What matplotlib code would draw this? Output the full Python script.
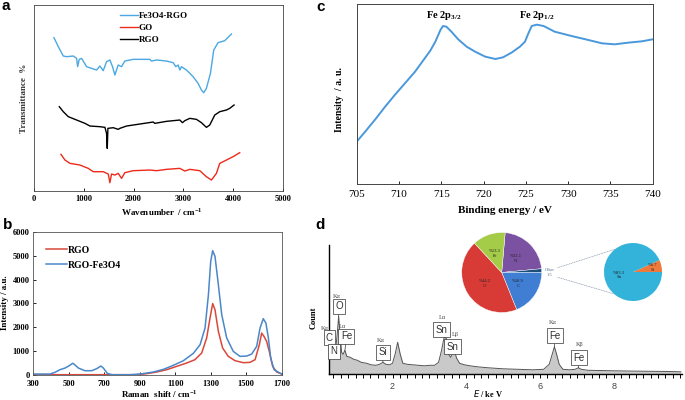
import numpy as np
import matplotlib
matplotlib.use('Agg')
import matplotlib.pyplot as plt
from matplotlib.patches import ConnectionPatch

plt.rcParams['font.family'] = ['Liberation Serif', 'DejaVu Serif']
plt.rcParams['mathtext.fontset'] = 'custom'
plt.rcParams['mathtext.rm'] = 'Liberation Serif:bold'

# ---- panel a : FTIR (arbitrary offset units) ----
ftir_wn_blue = [401, 488, 588, 655, 789, 856, 876, 909, 956, 1056, 1156, 1257, 1323, 1390, 1457, 1524,
                1577, 1624, 1691, 1758, 1824, 1992, 2326, 2360, 2460, 2660, 2794, 2848, 2895, 2928, 2961,
                3061, 3195, 3295, 3362, 3409, 3462, 3543, 3609, 3696, 3830, 3897, 3964]
ftir_blue = [459, 432, 404, 402, 404, 397, 372, 394, 397, 372, 367, 362, 374, 360, 387, 392,
             372, 347, 377, 372, 389, 394, 394, 389, 392, 389, 384, 372, 377, 362, 372,
             362, 342, 322, 302, 294, 307, 352, 422, 444, 450, 460, 470]
ftir_wn_black = [508, 588, 689, 856, 1023, 1123, 1323, 1424, 1457, 1471, 1484, 1591, 1691, 1724, 1858,
                 2126, 2393, 2426, 2660, 2928, 2981, 3028, 3128, 3262, 3362, 3462, 3529, 3630, 3730,
                 3864, 3930, 4017]
ftir_black = [252, 237, 222, 212, 202, 194, 192, 190, 172, 127, 187, 189, 184, 187, 194,
              200, 206, 202, 208, 212, 204, 210, 217, 214, 204, 190, 197, 227, 237,
              242, 247, 257]
ftir_wn_red = [541, 622, 722, 922, 1089, 1190, 1390, 1491, 1524, 1557, 1624, 1691, 1758, 1824, 1992,
               2326, 2460, 2660, 2928, 3028, 3128, 3329, 3462, 3563, 3663, 3730, 3864, 3997, 4131]
ftir_red = [109, 92, 82, 77, 67, 57, 57, 50, 24, 50, 47, 52, 37, 54, 60,
            62, 60, 64, 67, 59, 64, 60, 42, 32, 52, 82, 92, 102, 114]

# ---- panel b : Raman ----
raman_x_blue = [300, 394, 422, 450, 479, 503, 522, 529, 554, 591, 629, 657, 681, 695, 717, 742, 845,
                901, 976, 1033, 1089, 1146, 1202, 1240, 1268, 1287, 1300, 1311, 1324, 1343, 1362,
                1390, 1427, 1465, 1503, 1531, 1559, 1578, 1596, 1611, 1625, 1638, 1657, 1700]
raman_blue = [28, 28, 98, 210, 280, 379, 480, 449, 280, 168, 168, 252, 365, 280, 56, 0, 0,
              28, 112, 224, 393, 589, 897, 1262, 1963, 3365, 4767, 5215, 4977, 3785, 2524,
              1542, 981, 771, 785, 869, 1192, 1963, 2355, 2173, 1542, 701, 210, 28]
raman_x_red = [300, 882, 939, 995, 1052, 1108, 1164, 1211, 1249, 1277, 1296, 1311, 1324, 1343, 1367,
               1399, 1437, 1484, 1521, 1550, 1574, 1587, 1600, 1615, 1630, 1649, 1672, 1700]
raman_red = [0, 0, 42, 112, 210, 351, 491, 631, 911, 1542, 2383, 2990, 2734, 1823, 1122,
             771, 589, 505, 519, 631, 1262, 1750, 1612, 1402, 981, 351, 112, 28]

# ---- panel c : XPS Fe 2p ----
xps_ev = [705.0, 706.0, 707.2, 708.3, 709.5, 710.7, 711.9, 712.9, 713.7, 714.3, 714.9, 715.2, 715.6,
          716.2, 717.0, 718.0, 719.0, 720.2, 721.4, 722.3, 723.3, 724.3, 724.9, 725.3, 725.7, 726.3,
          727.1, 728.4, 730.4, 732.4, 734.0, 735.5, 737.1, 738.7, 740.0]
xps_int = [127, 157, 194, 230, 267, 302, 337, 372, 400, 427, 462, 474, 472,
           457, 434, 412, 397, 382, 375, 380, 394, 412, 427, 452, 474, 478,
           474, 457, 444, 432, 422, 419, 424, 428, 434]

# ---- panel d : EDS ----
eds_kev = [0.27, 0.30, 0.34, 0.37, 0.40, 0.45, 0.50, 0.54, 0.58, 0.62, 0.66, 0.71, 0.76, 0.85, 0.95,
           1.05, 1.15, 1.30, 1.42, 1.55, 1.65, 1.74, 1.82, 1.92, 2.00, 2.07, 2.14, 2.21, 2.28, 2.40,
           2.55, 2.70, 2.87, 3.00, 3.14, 3.25, 3.33, 3.40, 3.46, 3.52, 3.58, 3.64, 3.68, 3.74, 3.82,
           3.95, 4.10, 4.30, 4.60, 5.00, 5.40, 5.80, 6.10, 6.25, 6.33, 6.39, 6.45, 6.52, 6.62, 6.80,
           6.95, 7.04, 7.12, 7.30, 7.60, 8.00, 8.50, 9.00, 9.50, 9.82]
eds_count = [15, 22, 26, 20, 24, 22, 40, 58, 38, 22, 20, 24, 18, 17, 15,
             14, 12, 11, 9.5, 9, 10, 12, 10, 9.5, 11, 20, 32, 20, 11, 10,
             9.5, 9, 8.5, 9, 9, 12, 24, 37, 36, 20, 17, 22, 23, 16, 11,
             9.5, 8.5, 7.5, 6.5, 5.5, 5, 4.5, 5, 10, 20, 27.5, 20, 10, 5, 4.5,
             5, 6.5, 5, 4, 3.8, 3.5, 3.2, 3, 2.8, 2.5]
peak_names = ['C', 'N', 'O', 'Fe', 'Si', 'Sn', 'Sn', 'Fe', 'Fe']
peak_lines = ['', '', 'K\u03b1', 'L\u03b1', 'K\u03b1', 'L\u03b1', 'L\u03b2', 'K\u03b1', 'K\u03b2']
peak_kev = [0.29, 0.40, 0.54, 0.71, 1.74, 3.42, 3.67, 6.39, 7.04]

pie_labels = ['N', 'Other', 'C', 'O', 'Fe']
pie_values = [22.1, 1.5, 18.9, 44.2, 13.3]
zoom_labels = ['Si', 'Sn']
zoom_values = [6.7, 93.3]

W, H = 685, 400
fig = plt.figure(figsize=(W / 100, H / 100), dpi=100)


def px_axes(l, t, r, b):
    return fig.add_axes([l / W, 1 - b / H, (r - l) / W, (b - t) / H])


def px_text(x, y, s, **kw):
    fig.text(x / W, 1 - y / H, s, **kw)


bold = dict(fontweight='bold')

# ===== a =====
ax = px_axes(34, 5, 283, 190.7)
ax.plot(ftir_wn_blue, ftir_blue, color='#4BA8E2', lw=1.0, label='Fe3O4-RGO')
ax.plot(ftir_wn_red, ftir_red, color='#EE2A1B', lw=1.0, label='GO')
ax.plot(ftir_wn_black, ftir_black, color='black', lw=1.0, label='RGO')
ax.set_xlim(0, 5000)
ax.set_ylim(0, 557)
ax.set_xticks([0, 1000, 2000, 3000, 4000, 5000])
ax.set_yticks([])
ax.tick_params(axis='x', direction='in', length=2.5, width=0.6, labelsize=6, pad=3)
for t in ax.get_xticklabels():
    t.set_fontweight('bold')
for s in ax.spines.values():
    s.set_linewidth(0.6)
    s.set_color('#444444')
ax.legend(loc='upper left', bbox_to_anchor=(0.33, 0.985), frameon=False,
          handlelength=2.0, handletextpad=0.1, labelspacing=0.45, borderaxespad=0,
          prop=dict(weight='bold', size=6.5))
px_text(162, 212, 'Wavenumber  / cm$^{-1}$', ha='center', va='center', fontsize=6.5, **bold)
px_text(24, 98, 'Transmittance  %', ha='center', va='center', rotation=90, fontsize=6.5,
        color='#333333', **bold)

# ===== b =====
ax = px_axes(33.3, 232, 281.7, 374.7)
ax.plot(raman_x_red, raman_red, color='#D9483B', lw=1.1, label='RGO')
ax.plot(raman_x_blue, raman_blue, color='#4A87C9', lw=1.1, label='RGO-Fe3O4')
ax.set_xlim(300, 1700)
ax.set_ylim(0, 6000)
ax.set_xticks(range(300, 1701, 200))
ax.set_yticks(range(0, 6001, 1000))
ax.tick_params(direction='in', length=2, width=0.6, labelsize=6)
ax.tick_params(axis='x', pad=3.5)
ax.tick_params(axis='y', pad=2.5)
for t in ax.get_xticklabels() + ax.get_yticklabels():
    t.set_fontweight('bold')
for s in ax.spines.values():
    s.set_linewidth(0.6)
    s.set_color('#555555')
ax.legend(loc='upper left', bbox_to_anchor=(0.035, 0.93), frameon=False,
          handlelength=2.2, handletextpad=0.1, labelspacing=0.6, borderaxespad=0,
          prop=dict(weight='bold', size=7))
px_text(159, 394, 'Raman  shift / cm$^{-1}$', ha='center', va='center', fontsize=6.5, **bold)
px_text(5, 303, 'Intensity / a.u.', ha='center', va='center', rotation=90, fontsize=6.5, **bold)

# ===== c =====
ax = px_axes(356.7, 4, 652.7, 184)
ax.plot(xps_ev, xps_int, color='#4A98DC', lw=1.4)
ax.set_xlim(705, 740)
ax.set_ylim(0, 540)
ax.set_xticks(range(705, 741, 5))
ax.set_yticks([])
ax.tick_params(axis='x', direction='in', length=2.5, width=0.6, labelsize=8, pad=4)
for s in ax.spines.values():
    s.set_linewidth(0.7)
    s.set_color('#444444')
ax.text(715.3, 505, 'Fe 2p$_{\\mathregular{3/2}}$', ha='center', va='center', fontsize=7.5, **bold)
ax.text(726.3, 505, 'Fe 2p$_{\\mathregular{1/2}}$', ha='center', va='center', fontsize=7.5, **bold)
px_text(505, 210.5, 'Binding energy / eV', ha='center', va='center', fontsize=8, **bold)
px_text(339, 100, 'Intensity  / a. u.', ha='center', va='center', rotation=90, fontsize=7, **bold)

# ===== d =====
ax = px_axes(328.7, 245, 682, 374.3)
ax.fill_between(eds_kev, eds_count, 0, color='#C9C9C9', lw=0)
ax.plot(eds_kev, eds_count, color='#555555', lw=0.7)
ax.set_xlim(0.27, 9.85)
ax.set_ylim(0, 129.3)
ax.set_xticks([2, 4, 6, 8])
ax.set_xticks(np.arange(0.4, 9.81, 0.2), minor=True)
ax.set_yticks([])
ax.tick_params(axis='x', which='both', direction='out', length=3, width=0.7, labelsize=6.5,
               pad=2.5, labelcolor='#444444')
for t in ax.get_xticklabels():
    t.set_family('Liberation Sans')
ax.spines['top'].set_visible(False)
ax.spines['right'].set_visible(False)
ax.spines['left'].set_linewidth(1.0)
ax.spines['bottom'].set_linewidth(1.0)

box_offsets = [(0.0, 17), (0.01, -1), (0.01, 10), (0.04, 14), (0.0, 10), (-0.1, 8), (-0.04, 5),
               (0.02, 11), (0.02, 10)]
line_offsets = [(0, 0), (0, 0), (-0.15, 20), (-0.18, 24), (-0.17, 22), (-0.16, 20), (-0.05, 17),
                (-0.14, 24), (-0.08, 23)]
for name, ln, kev, bo, lo in zip(peak_names, peak_lines, peak_kev, box_offsets, line_offsets):
    v = np.interp(kev, eds_kev, eds_count)
    bx, by = kev + bo[0], v + bo[1]
    ax.annotate(name, xy=(kev, v), xytext=(bx, by), ha='center', va='center', fontsize=7,
                family='Liberation Sans', color='#333333',
                bbox=dict(boxstyle='square,pad=0.25', fc='white', ec='#333333', lw=0.5),
                arrowprops=dict(arrowstyle='-', color='#333333', lw=0.5, shrinkA=0, shrinkB=0))
    if ln:
        ax.text(kev + lo[0], v + lo[1], ln, ha='left', va='center', fontsize=4.5, color='#444444')
ax.text(0.05, 46, 'K\u03b1', ha='left', va='center', fontsize=4.5, color='#444444', clip_on=False)
px_text(314, 318, 'Count', ha='center', va='center', rotation=90, fontsize=6, **bold)
px_text(488, 393.5, '$\\mathit{E}$ / ke V', ha='center', va='center', fontsize=6, **bold)

# pies
R1, R2 = 40, 29
pa = fig.add_axes([(501.7 - R1) / W, 1 - (272.5 + R1) / H, 2 * R1 / W, 2 * R1 / H])
wedges, _ = pa.pie(pie_values, colors=['#7B52A2', '#1E4F7C', '#3F7ED3', '#D83B36', '#A4CC49'],
                   startangle=85, counterclock=False, radius=1,
                   wedgeprops=dict(lw=0.3, ec='white'))
for w, lab, val in zip(wedges, pie_labels, pie_values):
    ang = np.deg2rad((w.theta1 + w.theta2) / 2)
    if lab == 'Other':
        pa.text(1.2, 0.0, 'Other\n%.1f' % val, ha='center', va='center', fontsize=3.2,
                color='#4A6A90')
    else:
        pa.text(0.5 * np.cos(ang), 0.5 * np.sin(ang), '%%%.1f\n%s' % (val, lab), ha='center',
                va='center', fontsize=3.3, color='#222222', linespacing=1.3)
pa.set_xlim(-1, 1)
pa.set_ylim(-1, 1)
pa.set_aspect('equal')

pb = fig.add_axes([(633 - R2) / W, 1 - (272 + R2) / H, 2 * R2 / W, 2 * R2 / H])
wedges2, _ = pb.pie(zoom_values, colors=['#EE7B3C', '#33B3D9'], startangle=0, radius=1,
                    wedgeprops=dict(lw=0))
for w, lab, val in zip(wedges2, zoom_labels, zoom_values):
    ang = np.deg2rad((w.theta1 + w.theta2) / 2)
    d = 0.7 if lab == 'Si' else 0.5
    pb.text(d * np.cos(ang), d * np.sin(ang), '%%%.1f\n%s' % (val, lab), ha='center',
            va='center', fontsize=3.3, color='#222222', linespacing=1.3)
pb.set_xlim(-1, 1)
pb.set_ylim(-1, 1)
pb.set_aspect('equal')

for ya, angb in [(0.12, 128), (-0.12, -131)]:
    con = ConnectionPatch(xyA=(1.4, ya), coordsA=pa.transData,
                          xyB=(np.cos(np.deg2rad(angb)), np.sin(np.deg2rad(angb))),
                          coordsB=pb.transData, ls=(0, (1, 1.5)), color='#8899AA', lw=0.5)
    fig.add_artist(con)

# panel letters
for x, y, s in [(6, 6, 'a'), (8, 225, 'b'), (321, 7, 'c'), (320, 225, 'd')]:
    px_text(x, y, s, ha='center', va='center', fontsize=11, fontweight='bold',
            family='Liberation Sans')

fig.savefig('out.png', dpi=100)
